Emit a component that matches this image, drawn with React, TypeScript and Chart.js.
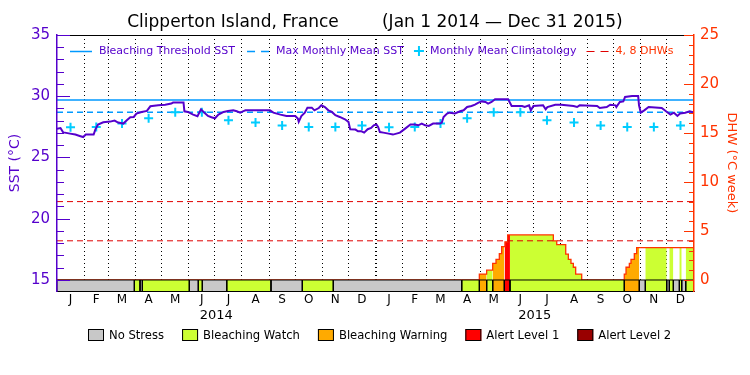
import React, { useEffect, useRef } from 'react';
import { Chart, registerables } from 'chart.js';

Chart.register(...registerables);
Chart.defaults.font.family = '"DejaVu Sans", "Liberation Sans", sans-serif';
Chart.defaults.color = '#000';

// ---------------- data ----------------
const startYear = 2014;
const endYear = 2015;
const titleText = 'Clipperton Island, France        (Jan 1 2014 \u2014 Dec 31 2015)';
const monthLetters = ['J', 'F', 'M', 'A', 'M', 'J', 'J', 'A', 'S', 'O', 'N', 'D'];
const yearLabels = ['2014', '2015'];

// monthly mean climatology (Jan..Dec), degC
const climatology = [27.47, 27.49, 27.77, 28.2, 28.7, 28.7, 28.04, 27.85, 27.62, 27.48, 27.48, 27.62];
const bleachingThreshold = 29.7;
const maxMonthlyMean = 28.7;
const dhwGuides = [4, 8];

// [day since Jan 1 2014, SST degC]
const sstObs: [number, number][] = [
  [0, 27.35], [4, 27.4], [7, 27.05], [9, 27.03], [15, 26.95], [21, 26.87], [26, 26.76], [30, 26.67],
  [33, 26.87], [42, 26.87], [44, 27.3], [47, 27.69], [53, 27.88], [61, 27.93], [66, 28.01], [70, 27.85],
  [76, 27.77], [80, 28.04], [84, 28.29], [88, 28.31], [91, 28.59], [97, 28.72], [103, 28.8], [107, 29.18],
  [116, 29.26], [124, 29.31], [131, 29.4], [133, 29.48], [145, 29.48], [146, 28.77], [150, 28.72], [156, 28.5],
  [161, 28.37], [165, 28.93], [168, 28.72], [173, 28.39], [177, 28.29], [181, 28.2], [185, 28.5], [191, 28.72],
  [196, 28.8], [202, 28.85], [206, 28.77], [210, 28.66], [213, 28.77], [216, 28.85], [244, 28.85], [248, 28.66],
  [256, 28.5], [263, 28.39], [273, 28.39], [276, 28.18], [277, 27.91], [280, 28.39], [284, 28.66], [287, 29.07],
  [292, 29.07], [295, 28.85], [300, 29.04], [303, 29.26], [307, 29.12], [311, 28.85], [315, 28.72], [319, 28.45],
  [324, 28.31], [330, 28.12], [334, 27.91], [336, 27.31], [342, 27.28], [345, 27.14], [349, 27.14], [352, 27.03],
  [356, 27.31], [360, 27.42], [363, 27.63], [366, 27.7], [368, 27.5], [370, 27.08], [374, 27.03], [380, 26.95],
  [385, 26.87], [389, 26.95], [393, 27.03], [399, 27.36], [405, 27.69], [410, 27.69], [414, 27.63], [418, 27.77],
  [422, 27.63], [426, 27.58], [431, 27.77], [439, 27.77], [441, 27.85], [443, 28.31], [447, 28.59], [450, 28.66],
  [456, 28.59], [462, 28.77], [466, 28.85], [470, 29.12], [475, 29.2], [479, 29.31], [483, 29.48], [487, 29.58],
  [491, 29.53], [494, 29.4], [498, 29.53], [502, 29.75], [517, 29.75], [521, 29.2], [533, 29.2], [536, 29.12],
  [541, 29.26], [543, 28.85], [546, 29.2], [557, 29.26], [560, 28.93], [562, 29.12], [571, 29.31], [578, 29.31],
  [592, 29.2], [596, 29.12], [599, 29.26], [619, 29.2], [622, 29.04], [630, 29.12], [634, 29.31], [640, 29.26],
  [641, 29.12], [645, 29.53], [649, 29.58], [651, 29.94], [659, 30.02], [666, 30.02], [667, 29.26], [669, 28.66],
  [673, 28.85], [678, 29.12], [693, 29.04], [699, 28.72], [703, 28.5], [707, 28.66], [711, 28.39], [714, 28.59],
  [720, 28.66], [725, 28.77], [730, 28.66],
];

// Degree heating weeks: value holds from day until next day
const dhwDays = [0, 484, 492.4, 499.3, 503.1, 506.9, 509.6, 513.4, 516.5, 568.8, 572.7, 583, 586, 589, 591.7, 594.4, 601.3,
  650.1, 652.1, 655.9, 657.8, 661.6, 664.3];
const dhwValues = [0, 0.6, 1.0, 1.7, 2.1, 2.7, 3.4, 3.9, 4.6, 4.0, 3.6, 2.65, 2.1, 1.7, 1.3, 0.6, 0,
  0.6, 1.3, 1.7, 2.1, 2.7, 3.3];

// Bleaching alert (stress) periods: breaks in days, level of each period
const stressBreaks = [0, 88.6, 95.1, 97.8, 151.6, 161.9, 166.5, 194.5, 245.2, 281.1, 316.6, 463.8, 484, 492.4, 499.3,
  512.6, 519.1, 650.1, 667.3, 674.2, 698.7, 701.7, 706.3, 713.2, 715.9, 720.5, 730];
const stressLevels = [0, 1, 0, 1, 0, 1, 0, 1, 0, 1, 0, 1, 2, 1, 2, 3, 1, 2, 0, 1, 0, 1, 0, 1, 0, 1];
const stressNames = ['No Stress', 'Bleaching Watch', 'Bleaching Warning', 'Alert Level 1', 'Alert Level 2'];
const stressColors = ['#c8c8c8', '#ccff33', '#ffaa00', '#ff0000', '#990000'];

// ---------------- styles ----------------
const PURPLE = '#5500cc';
const BLUE = '#0099ff';
const CYAN = '#00ccff';
const ORANGE = '#ff3300';
const DASHRED = '#e00000';
const SST_MIN = 14.102;
const SST_MAX = 35;
const DHW_MIN = -1.1225;
const DHW_MAX = 25;
const BAR_TOP = 15;

// ---------------- calendar helpers ----------------
const DAY_MS = 86400000;
const t0 = Date.UTC(startYear, 0, 1);
const monthStarts: number[] = [];
for (let y = startYear; y <= endYear; y++) for (let m = 0; m < 12; m++) monthStarts.push((Date.UTC(y, m, 1) - t0) / DAY_MS);
const totalDays = (Date.UTC(endYear + 1, 0, 1) - t0) / DAY_MS;
const monthEdges = [...monthStarts, totalDays];
const midMonths = monthStarts.map((s, i) => (s + monthEdges[i + 1]) / 2);
const yearStarts = yearLabels.map((_, i) => (Date.UTC(startYear + i, 0, 1) - t0) / DAY_MS);
const yearEdges = [...yearStarts, totalDays];
const midYears = yearStarts.map((s, i) => (s + yearEdges[i + 1]) / 2);
const newYearDays = yearStarts.slice(1);

function dhwAtOrBefore(day: number, strict: boolean) {
  let v = 0;
  for (let i = 0; i < dhwDays.length; i++) if (strict ? dhwDays[i] < day : dhwDays[i] <= day) v = dhwValues[i];
  return v;
}

function buildDatasets() {
  const ds: any[] = [];
  const base = { xAxisID: 'x', pointRadius: 0, tension: 0, fill: false };
  ds.push({ ...base, label: 'SST', yAxisID: 'y', data: sstObs.map(([d, v]) => ({ x: d, y: v })), borderColor: PURPLE, borderWidth: 2, order: 1 });
  ds.push({ ...base, label: 'Monthly Mean Climatology', yAxisID: 'y', showLine: false,
    data: midMonths.map((d, i) => ({ x: d, y: climatology[i % 12] })),
    pointStyle: 'cross', pointRadius: 4.5, pointBorderWidth: 2, pointBorderColor: CYAN, borderColor: CYAN, order: 2 });
  ds.push({ ...base, label: 'Bleaching Threshold SST', yAxisID: 'y', data: [{ x: 0, y: bleachingThreshold }, { x: totalDays, y: bleachingThreshold }], borderColor: BLUE, borderWidth: 1.5, order: 3 });
  ds.push({ ...base, label: 'Max Monthly Mean SST', yAxisID: 'y', data: [{ x: 0, y: maxMonthlyMean }, { x: totalDays, y: maxMonthlyMean }], borderColor: BLUE, borderWidth: 1.5, borderDash: [6, 4], order: 4 });
  dhwGuides.forEach((g) => ds.push({ ...base, label: 'DHW ' + g, yAxisID: 'y2', data: [{ x: 0, y: g }, { x: totalDays, y: g }], borderColor: DASHRED, borderWidth: 1, borderDash: [6, 4], order: 5 }));
  // stress bar
  for (let i = 0; i < stressLevels.length; i++) {
    const s = stressBreaks[i], e = stressBreaks[i + 1];
    ds.push({ ...base, label: 'stress', yAxisID: 'y',
      data: [{ x: s, y: SST_MIN }, { x: s, y: BAR_TOP }, { x: e, y: BAR_TOP }, { x: e, y: SST_MIN }],
      borderColor: '#000', borderWidth: 1, backgroundColor: stressColors[stressLevels[i]], fill: { value: SST_MIN }, order: 6 });
  }
  // DHW outline
  const outline = dhwDays.map((d, i) => ({ x: d, y: dhwValues[i] }));
  outline.push({ x: totalDays, y: dhwValues[dhwValues.length - 1] });
  ds.push({ ...base, label: 'DHW', yAxisID: 'y2', data: outline, stepped: true, borderColor: ORANGE, borderWidth: 1.3, order: 7 });
  // DHW fills coloured by stress level
  for (let i = 0; i < stressLevels.length; i++) {
    if (stressLevels[i] === 0) continue;
    const s = stressBreaks[i], e = stressBreaks[i + 1];
    const pts = [{ x: s, y: 0 }, { x: s, y: dhwAtOrBefore(s, false) }];
    for (let k = 0; k < dhwDays.length; k++) {
      const d = dhwDays[k];
      if (d > s && d < e) { pts.push({ x: d, y: dhwValues[k - 1] }); pts.push({ x: d, y: dhwValues[k] }); }
    }
    pts.push({ x: e, y: dhwAtOrBefore(e, true) });
    pts.push({ x: e, y: 0 });
    if (Math.max(...pts.map((p) => p.y)) <= 0) continue;
    ds.push({ ...base, label: 'dhwfill', yAxisID: 'y2', data: pts, borderWidth: 0, borderColor: 'rgba(0,0,0,0)',
      backgroundColor: stressColors[stressLevels[i]], fill: { value: 0 }, order: 8 });
  }
  return ds;
}

const overlayPlugin = {
  id: 'overlay',
  afterDatasetsDraw(chart: any) {
    const { ctx, chartArea: a, scales } = chart;
    ctx.save();
    // top frame line
    ctx.strokeStyle = '#000';
    ctx.lineWidth = 1;
    ctx.beginPath();
    ctx.moveTo(a.left, Math.round(a.top) + 0.5);
    ctx.lineTo(a.right, Math.round(a.top) + 0.5);
    ctx.stroke();
    // inward ticks, left axis
    ctx.strokeStyle = PURPLE;
    for (let v = BAR_TOP; v <= SST_MAX; v++) {
      const py = Math.round(scales.y.getPixelForValue(v)) + 0.5;
      const len = v % 5 === 0 ? 13 : 7;
      ctx.beginPath(); ctx.moveTo(a.left, py); ctx.lineTo(a.left + len, py); ctx.stroke();
    }
    // inward ticks, right axis
    ctx.strokeStyle = ORANGE;
    for (let v = 0; v <= DHW_MAX; v++) {
      const py = Math.round(scales.y2.getPixelForValue(v)) + 0.5;
      const len = v % 5 === 0 ? 10 : 5;
      ctx.beginPath(); ctx.moveTo(a.right, py); ctx.lineTo(a.right - len, py); ctx.stroke();
    }
    // inner legend
    const ly = a.top + 16;
    ctx.font = '11px "DejaVu Sans", sans-serif';
    ctx.textBaseline = 'middle';
    ctx.textAlign = 'left';
    let x = a.left + 13;
    const seg = (x0: number, color: string, dash: number[], w: number) => {
      ctx.strokeStyle = color; ctx.lineWidth = w; ctx.setLineDash(dash);
      ctx.beginPath(); ctx.moveTo(x0, ly + 0.5); ctx.lineTo(x0 + 22, ly + 0.5); ctx.stroke();
      ctx.setLineDash([]);
    };
    const label = (t: string, x0: number, color: string) => { ctx.fillStyle = color; ctx.fillText(t, x0, ly); return ctx.measureText(t).width; };
    seg(x, BLUE, [], 1.5);
    x += 29; x += label('Bleaching Threshold SST', x, PURPLE) + 12;
    seg(x, BLUE, [8, 6], 1.5);
    x += 29; x += label('Max Monthly Mean SST', x, PURPLE) + 15;
    ctx.strokeStyle = CYAN; ctx.lineWidth = 2;
    ctx.beginPath(); ctx.moveTo(x - 5, ly); ctx.lineTo(x + 5, ly); ctx.moveTo(x, ly - 5); ctx.lineTo(x, ly + 5); ctx.stroke();
    x += 11; x += label('Monthly Mean Climatology', x, PURPLE) + 10;
    seg(x, DASHRED, [8, 6], 1);
    x += 29; label('4, 8 DHWs', x, ORANGE);
    ctx.restore();
  },
  afterDraw(chart: any) {
    const { ctx } = chart;
    ctx.save();
    ctx.font = '11.6px "DejaVu Sans", sans-serif';
    ctx.textBaseline = 'middle';
    ctx.textAlign = 'left';
    const widths = stressNames.map((n) => ctx.measureText(n).width);
    const boxW = 16, boxH = 12, gapText = 5, gapItem = 18;
    const total = widths.reduce((s, w) => s + boxW + gapText + w, 0) + gapItem * (widths.length - 1);
    let x = Math.round(380 - total / 2);
    const by = 329;
    stressNames.forEach((n, i) => {
      ctx.fillStyle = stressColors[i];
      ctx.fillRect(x, by, boxW, boxH);
      ctx.strokeStyle = '#000'; ctx.lineWidth = 1;
      ctx.strokeRect(x + 0.5, by + 0.5, boxW - 1, boxH - 1);
      ctx.fillStyle = '#000';
      ctx.fillText(n, x + boxW + gapText, by + boxH / 2 + 0.5);
      x += boxW + gapText + widths[i] + gapItem;
    });
    ctx.restore();
  },
};

function makeConfig(): any {
  return {
    type: 'line',
    data: { datasets: buildDatasets() },
    plugins: [overlayPlugin],
    options: {
      responsive: false,
      animation: false,
      events: [],
      layout: { padding: { top: 0, left: 0, right: 0, bottom: 52 } },
      plugins: {
        legend: { display: false },
        tooltip: { enabled: false },
        title: { display: true, text: titleText, color: '#000', font: { size: 17, weight: 'normal' }, padding: { top: 12, bottom: 2.6 } },
      },
      scales: {
        x: {
          type: 'linear', position: 'bottom', min: 0, max: totalDays, weight: 0,
          afterBuildTicks: (s: any) => { s.ticks = monthStarts.slice(1).map((v) => ({ value: v })); },
          ticks: { display: false },
          grid: { display: true, drawTicks: false, color: '#000', lineWidth: (c: any) => (c.tick && newYearDays.includes(c.tick.value) ? 2 : 1) },
          border: { display: true, color: '#000', width: 1, dash: [1, 3], z: 1 },
          afterFit: (s: any) => { s.height = 0; },
        },
        xm: {
          type: 'linear', position: 'bottom', min: 0, max: totalDays, weight: 1,
          afterBuildTicks: (s: any) => { s.ticks = midMonths.map((v) => ({ value: v })); },
          ticks: { autoSkip: false, maxRotation: 0, minRotation: 0, padding: 1.3, color: '#000', font: { size: 12 },
            callback: (_v: any, i: number) => monthLetters[i % 12] },
          grid: { display: false, drawTicks: false },
          border: { display: false },
          afterFit: (s: any) => { s.height = 16; },
        },
        xy: {
          type: 'linear', position: 'bottom', min: 0, max: totalDays, weight: 2,
          afterBuildTicks: (s: any) => { s.ticks = midYears.map((v) => ({ value: v })); },
          ticks: { autoSkip: false, maxRotation: 0, minRotation: 0, padding: 1.2, color: '#000', font: { size: 13 },
            callback: (_v: any, i: number) => yearLabels[i] },
          grid: { display: false, drawTicks: false },
          border: { display: false },
          afterFit: (s: any) => { s.height = 16; },
        },
        y: {
          type: 'linear', position: 'left', min: SST_MIN, max: SST_MAX,
          afterBuildTicks: (s: any) => { s.ticks = [15, 20, 25, 30, 35].map((v) => ({ value: v })); },
          ticks: { color: PURPLE, font: { size: 15 }, padding: 7, callback: (v: any) => String(v) },
          grid: { display: false, drawTicks: false },
          border: { display: true, color: PURPLE, width: 1.5, z: 1 },
          title: { display: true, text: 'SST (\u00b0C)', color: PURPLE, font: { size: 14 }, padding: { top: 6.6, bottom: 0 } },
          afterFit: (s: any) => { s.width = 57; },
        },
        y2: {
          type: 'linear', position: 'right', min: DHW_MIN, max: DHW_MAX,
          afterBuildTicks: (s: any) => { s.ticks = [0, 5, 10, 15, 20, 25].map((v) => ({ value: v })); },
          ticks: { color: ORANGE, font: { size: 15 }, padding: 6, callback: (v: any) => String(v) },
          grid: { display: false, drawTicks: false },
          border: { display: true, color: ORANGE, width: 1.5, z: 1 },
          title: { display: true, text: 'DHW (\u00b0C week)', color: ORANGE, font: { size: 13 }, padding: { top: 10.5, bottom: 0 } },
          afterFit: (s: any) => { s.width = 56; },
        },
      },
    },
  };
}

export default function App() {
  const ref = useRef<HTMLCanvasElement>(null);
  useEffect(() => {
    if (!ref.current) return;
    const chart = new Chart(ref.current, makeConfig());
    return () => chart.destroy();
  }, []);
  return (
    <div style={{ position: 'fixed', left: 0, top: 0, width: 750, height: 375, background: '#fff' }}>
      <canvas ref={ref} width={750} height={375} style={{ display: 'block', width: 750, height: 375 }} />
    </div>
  );
}
